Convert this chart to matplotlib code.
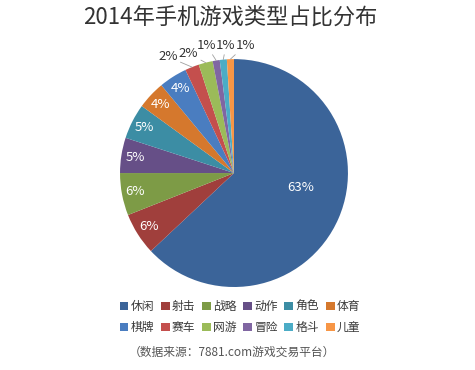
import numpy as np
import matplotlib.pyplot as plt

plt.rcParams['font.family'] = ['Noto Sans CJK SC', 'DejaVu Sans']

# 数据
categories = ['休闲', '射击', '战略', '动作', '角色', '体育',
              '棋牌', '赛车', '网游', '冒险', '格斗', '儿童']
shares = [63, 6, 6, 5, 5, 4, 4, 2, 2, 1, 1, 1]
colors = ['#3b6499', '#a03f3c', '#7d9b46', '#664f87', '#3c8da4', '#d5782d',
          '#4a7dc0', '#c44f4d', '#9bbb59', '#8066a2', '#4bacc6', '#f79646']

# 小扇区的外部标签位置 (data units)
outer_pos = [(-0.58, 1.02), (-0.40, 1.05), (-0.24, 1.12), (-0.07, 1.12), (0.10, 1.12)]

fig = plt.figure(figsize=(4.75, 3.7), dpi=100)
ax = fig.add_axes([0.2526, 0.2243, 0.48, 0.616])
wedges, _ = ax.pie(shares, colors=colors, startangle=90, counterclock=False,
                   radius=1, wedgeprops=dict(linewidth=0))
ax.set_xlim(-1, 1)
ax.set_ylim(-1, 1)

for i, w in enumerate(wedges):
    mid = np.deg2rad((w.theta1 + w.theta2) / 2)
    label = f'{shares[i]}%'
    if i == 0:
        # big slice label sits closer to the centre
        a = np.deg2rad(-12)
        ax.text(0.6 * np.cos(a), 0.6 * np.sin(a), label, color='white',
                fontsize=9.5, ha='center', va='center')
    elif i < 7:
        ax.text(0.88 * np.cos(mid), 0.88 * np.sin(mid), label, color='white',
                fontsize=9.5, ha='center', va='center')
    else:
        ax.annotate(label, xy=(np.cos(mid), np.sin(mid)), xytext=outer_pos[i - 7],
                    color='#333333', fontsize=9.5, ha='center', va='center',
                    arrowprops=dict(arrowstyle='-', color='#a0a0a0', lw=0.6,
                                    shrinkA=0, shrinkB=0))

fig.text(0.484, 0.954, '2014年手机游戏类型占比分布', ha='center', va='center',
         fontsize=16, color='#333333')

# legend: 两行, 按行排列
order = [0, 6, 1, 7, 2, 8, 3, 9, 4, 10, 5, 11]
fig.legend([wedges[k] for k in order], [categories[k] for k in order],
           ncol=6, loc='center', bbox_to_anchor=(240 / 475, 0.143), frameon=False,
           fontsize=8.5, handlelength=0.75, handleheight=0.75, handletextpad=0.2,
           columnspacing=0.55, labelspacing=0.7, labelcolor='#3a3a3a')

fig.text(0.488, 0.049, '（数据来源：7881.com游戏交易平台）', ha='center', va='center',
         fontsize=8.5, color='#555555')

fig.savefig('out.png', dpi=100)
